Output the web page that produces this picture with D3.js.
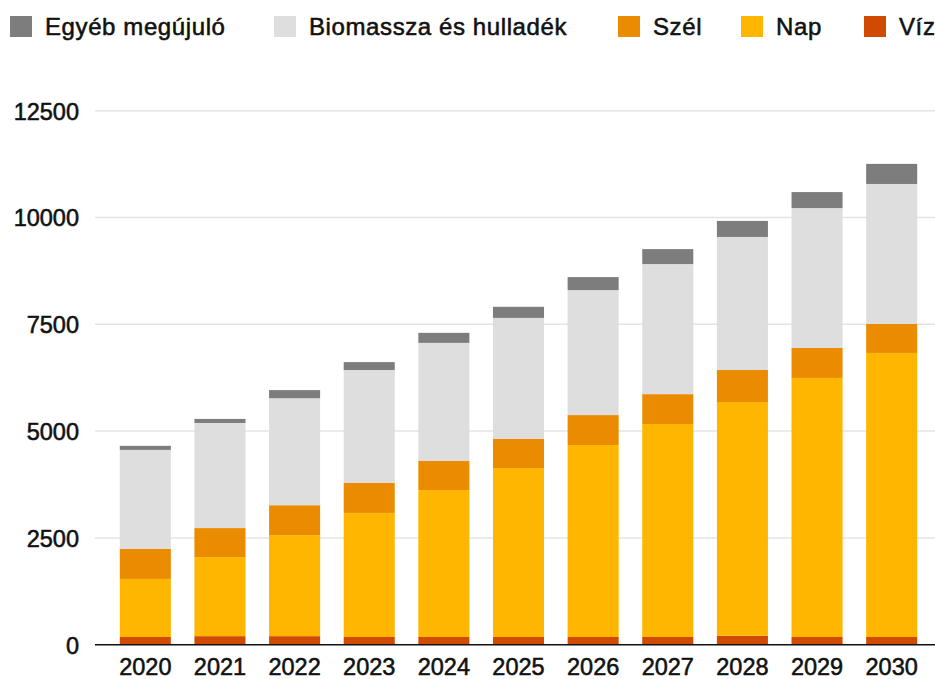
<!DOCTYPE html>
<html>
<head>
<meta charset="utf-8">
<script src="https://cdn.jsdelivr.net/npm/d3@7"></script>
<style>
  body { margin: 0; background: #fff; }
  text { font-family: "Liberation Sans", Arial, Helvetica, sans-serif; fill: #111; stroke: #111; stroke-width: 0.55px; }
</style>
</head>
<body>
<svg id="chart" width="935" height="679"></svg>
<script>
const W = 935, H = 679;

// data
const years = ["2020","2021","2022","2023","2024","2025","2026","2027","2028","2029","2030"];
const viz    = [180, 200, 200, 180, 180, 180, 180, 180, 210, 180, 180];
const nap    = [1360, 1850, 2365, 2905, 3440, 3955, 4495, 4985, 5470, 6065, 6650];
const szel   = [700, 680, 700, 700, 680, 680, 700, 700, 750, 700, 680];
const biomassza = [2320, 2460, 2505, 2645, 2765, 2835, 2925, 3045, 3115, 3275, 3275];
const egyeb  = [95, 95, 190, 185, 235, 260, 305, 350, 375, 375, 470];
const yTicks = [0, 2500, 5000, 7500, 10000, 12500];

// stack order bottom -> top, legend order is the reverse
const seriesNames = ["Víz", "Nap", "Szél", "Biomassza és hulladék", "Egyéb megújuló"];
const seriesValues = [viz, nap, szel, biomassza, egyeb];
const colors = ["#d04a02", "#ffb600", "#eb8c00", "#dedede", "#7d7d7d"];
const legendX = [10, 274, 618, 741, 864]; // left edge of each legend swatch

const rows = years.map((y, i) => {
  const r = { year: y };
  seriesNames.forEach((n, k) => r[n] = seriesValues[k][i]);
  return r;
});
const stacked = d3.stack().keys(seriesNames)(rows);

const svg = d3.select("#chart");

const x = d3.scaleBand()
  .domain(years)
  .range([108, 929])
  .paddingInner(0.316)
  .paddingOuter(0.158);

const y = d3.scaleLinear()
  .domain([0, 12500])
  .range([644.7, 110.7]);

// gridlines + y labels
const grid = svg.append("g");
grid.selectAll("line")
  .data(yTicks.filter(t => t > 0))
  .enter().append("line")
  .attr("x1", 95).attr("x2", W)
  .attr("y1", d => y(d)).attr("y2", d => y(d))
  .attr("stroke", "#e4e4e4")
  .attr("stroke-width", 1.5);

const yAxis = svg.append("g")
  .attr("transform", "translate(79,0)")
  .call(d3.axisLeft(y).tickValues(yTicks).tickSize(0).tickPadding(0).tickFormat(d3.format("d")));
yAxis.select(".domain").remove();
yAxis.selectAll("text")
  .attr("font-size", 23.5)
  .attr("dy", "0.36em");

// bars
svg.append("g").selectAll("g")
  .data(stacked)
  .enter().append("g")
  .attr("fill", (d, i) => colors[i])
  .selectAll("rect")
  .data(d => d)
  .enter().append("rect")
  .attr("x", d => x(d.data.year))
  .attr("width", x.bandwidth())
  .attr("y", d => y(d[1]))
  .attr("height", d => y(d[0]) - y(d[1]));

// baseline
svg.append("line")
  .attr("x1", 95).attr("x2", W)
  .attr("y1", y(0)).attr("y2", y(0))
  .attr("stroke", "#111")
  .attr("stroke-width", 1.5);

// x labels
const xAxis = svg.append("g")
  .attr("transform", `translate(0,${y(0)})`)
  .call(d3.axisBottom(x).tickSize(0).tickPadding(0));
xAxis.select(".domain").remove();
xAxis.selectAll("text")
  .attr("font-size", 23.5)
  .attr("dy", null)
  .attr("y", 30.5);

// legend
const legendItems = seriesNames.map((n, i) => ({ name: n, color: colors[i] })).reverse();
const item = svg.append("g").selectAll("g")
  .data(legendItems)
  .enter().append("g")
  .attr("transform", (d, i) => `translate(${legendX[i]},0)`);
item.append("rect")
  .attr("y", 16)
  .attr("width", 22).attr("height", 21)
  .attr("fill", d => d.color);
item.append("text")
  .attr("x", 35).attr("y", 35)
  .attr("font-size", 24)
  .attr("letter-spacing", "0.6px")
  .text(d => d.name);
</script>
</body>
</html>
